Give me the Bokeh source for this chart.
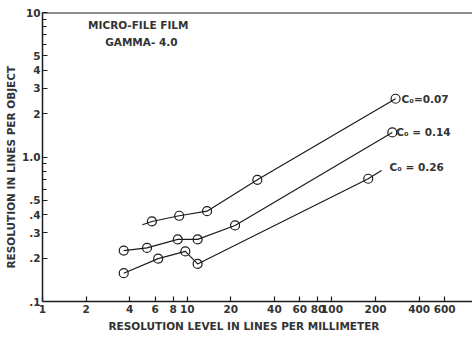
import math
from bokeh.plotting import figure
from bokeh.models import FixedTicker, Label, Span, Range1d, CustomJSTickFormatter, Title
from bokeh.embed import file_html
from bokeh.resources import INLINE

# ---- data ----
x_ticks = [1, 2, 4, 6, 8, 10, 20, 40, 60, 80, 100, 200, 400, 600]
x_tick_labels = ["1", "2", "4", "6", "8", "10", "20", "40", "60", "80", "100", "200", "400", "600"]
y_ticks = [0.1, 0.2, 0.3, 0.4, 0.5, 1.0, 2, 3, 4, 5, 10]
y_tick_labels = [".1", ".2", ".3", ".4", ".5", "1.0", "2", "3", "4", "5", "10"]
y_minor_ticks = [0.6, 0.7, 0.8, 0.9, 6, 7, 8, 9]

# C0 = 0.07
c007_x = [5.7, 8.8, 13.7, 30.5, 275]
c007_y = [0.358, 0.392, 0.422, 0.695, 2.53]
c007_line_x = [4.9, 5.7, 8.8, 13.7, 30.5, 275]
c007_line_y = [0.340, 0.358, 0.392, 0.422, 0.695, 2.53]

# C0 = 0.14
c014_x = [3.64, 5.27, 8.6, 11.8, 21.4, 261]
c014_y = [0.225, 0.235, 0.269, 0.269, 0.336, 1.48]

# C0 = 0.26
c026_x = [3.64, 6.3, 9.7, 11.8, 178]
c026_y = [0.157, 0.198, 0.222, 0.182, 0.707]
c026_line_x = [3.64, 6.3, 9.7, 11.8, 178, 220]
c026_line_y = [0.157, 0.198, 0.222, 0.182, 0.707, 0.807]

series_labels = ["C\u2080=0.07", "C\u2080 = 0.14", "C\u2080 = 0.26"]
title_lines = ["MICRO-FILE FILM", "GAMMA- 4.0"]
x_title = "RESOLUTION LEVEL IN LINES PER MILLIMETER"
y_title = "RESOLUTION IN LINES PER OBJECT"

INK = "#1c1c1c"
FONT = "DejaVu Sans"

p = figure(width=472, height=336, x_axis_type="log", y_axis_type="log",
           x_range=Range1d(1, 935), y_range=Range1d(0.1, 10),
           output_backend="svg", toolbar_location=None,
           min_border_left=42, min_border_top=12, min_border_bottom=35, min_border_right=0)
p.outline_line_color = None
p.xgrid.visible = False
p.ygrid.visible = False
p.background_fill_color = "white"

fmt_code = """
let best = 0, d = 1e9;
for (let i = 0; i < vals.length; i++) {
  const e = Math.abs(Math.log(vals[i]) - Math.log(tick));
  if (e < d) { d = e; best = i; }
}
return d < 1e-6 ? labs[best] : "";
"""
p.xaxis.ticker = FixedTicker(ticks=x_ticks)
p.xaxis.formatter = CustomJSTickFormatter(args=dict(vals=x_ticks, labs=x_tick_labels), code=fmt_code)
p.yaxis.ticker = FixedTicker(ticks=y_ticks, minor_ticks=y_minor_ticks)
p.yaxis.formatter = CustomJSTickFormatter(args=dict(vals=y_ticks, labs=y_tick_labels), code=fmt_code)

for ax in (p.xaxis, p.yaxis):
    ax.major_tick_in = 5
    ax.major_tick_out = 0
    ax.minor_tick_in = 4
    ax.minor_tick_out = 0
    ax.axis_line_width = 1.5
    ax.axis_line_color = INK
    ax.major_tick_line_color = INK
    ax.minor_tick_line_color = INK
    ax.major_tick_line_width = 1.2
    ax.major_label_text_font = FONT
    ax.major_label_text_font_size = "10.5px"
    ax.major_label_text_font_style = "bold"
    ax.major_label_text_color = "#333333"
p.xaxis.major_label_standoff = 3
p.yaxis.major_label_standoff = 2

p.add_layout(Span(location=10, dimension="width", line_color=INK, line_width=2))

# series
p.line(c007_line_x, c007_line_y, line_color=INK, line_width=1.2)
p.scatter(c007_x, c007_y, marker="circle", size=9, fill_color=None, line_color=INK, line_width=1.2)
p.line(c014_x, c014_y, line_color=INK, line_width=1.2)
p.scatter(c014_x, c014_y, marker="circle", size=9, fill_color=None, line_color=INK, line_width=1.2)
p.line(c026_line_x, c026_line_y, line_color=INK, line_width=1.2)
p.scatter(c026_x, c026_y, marker="circle", size=9, fill_color=None, line_color=INK, line_width=1.2)

lab_kw = dict(text_font=FONT, text_font_size="10.5px", text_font_style="bold",
              text_color="#333333", text_baseline="middle")
p.add_layout(Label(x=c007_x[-1], y=c007_y[-1], x_offset=6, text=series_labels[0], **lab_kw))
p.add_layout(Label(x=c014_x[-1], y=c014_y[-1], x_offset=4, text=series_labels[1], **lab_kw))
p.add_layout(Label(x=c026_line_x[-1], y=c026_line_y[-1], x_offset=8, y_offset=3, text=series_labels[2], **lab_kw))

p.add_layout(Label(x=4.59, y=8.13, text=title_lines[0], text_align="center", **lab_kw))
p.add_layout(Label(x=4.82, y=6.2, text=title_lines[1], text_align="center", **lab_kw))

t_kw = dict(text_font=FONT, text_font_size="10.5px", text_font_style="bold", text_color="#333333")
p.add_layout(Title(text=x_title, align="left", offset=66, standoff=5, **t_kw), "below")
p.add_layout(Title(text=y_title, align="left", offset=33, standoff=3, **t_kw), "left")

open("out.html", "w").write(file_html(p, INLINE))
